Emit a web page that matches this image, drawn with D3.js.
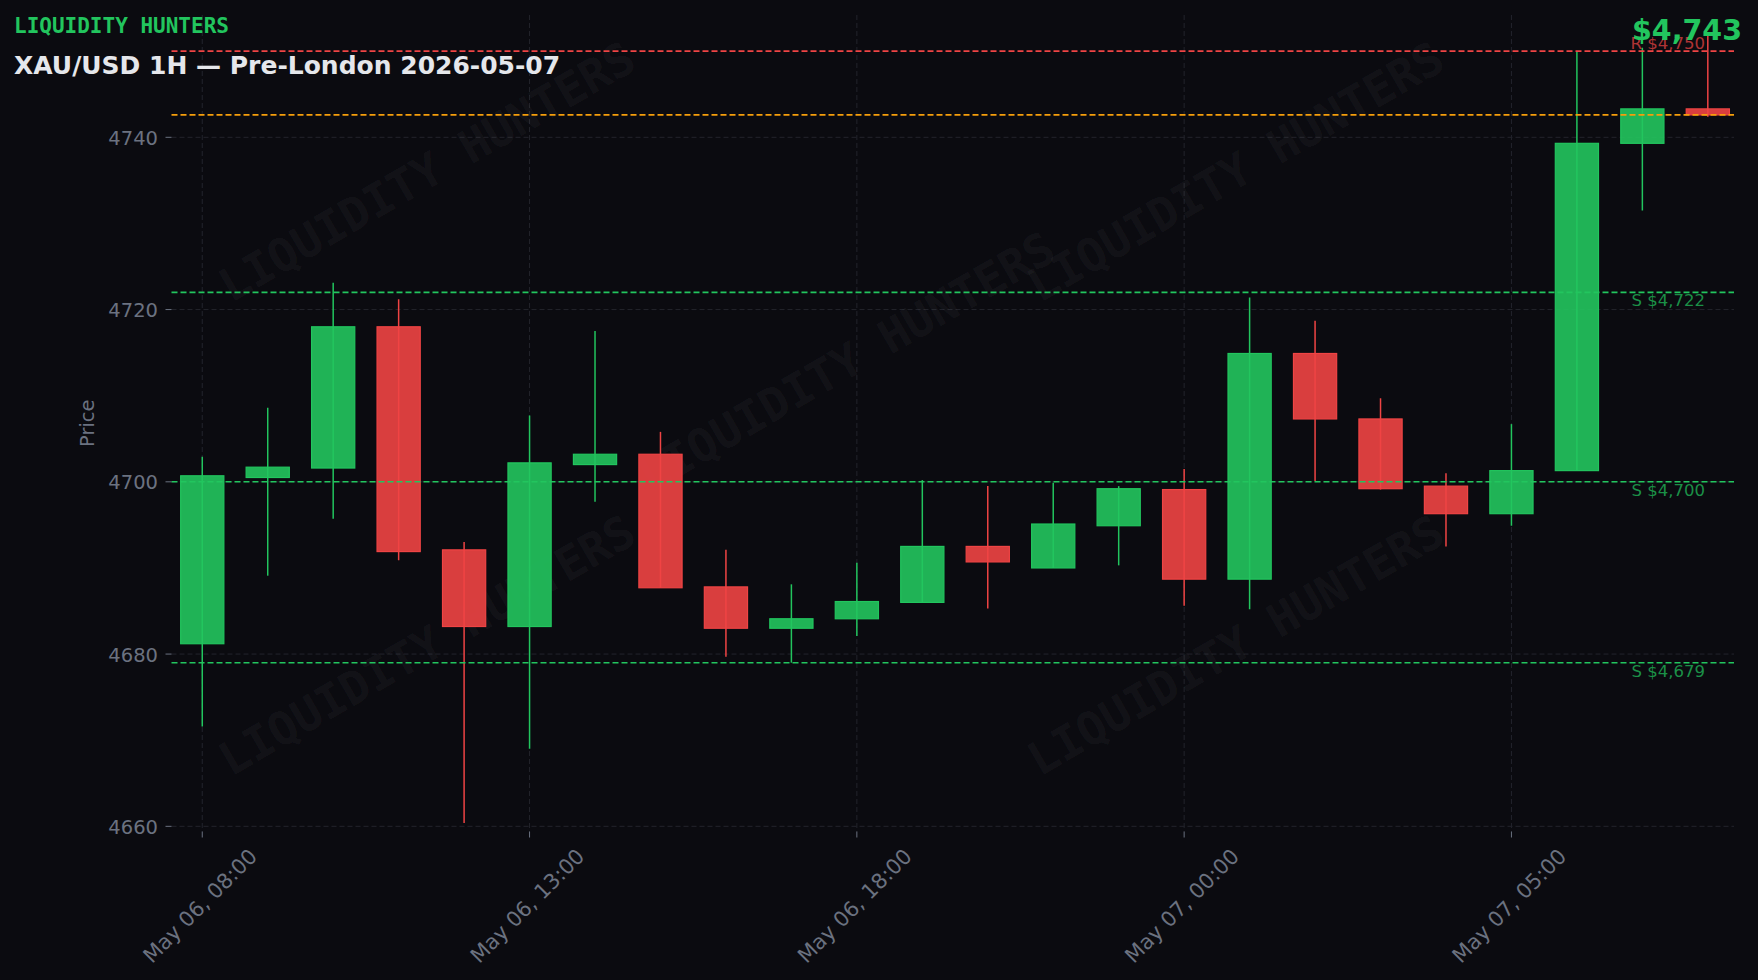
<!DOCTYPE html>
<html><head><meta charset="utf-8">
<script src="https://cdn.jsdelivr.net/npm/d3@7/dist/d3.min.js"></script>
<style>
html,body{margin:0;padding:0;background:#0b0b10;}
svg{display:block;}
</style></head><body>
<svg id="c" width="1758" height="980"></svg>
<script>
// ---- data ----
const times = [
  "May 06, 08:00","May 06, 09:00","May 06, 10:00","May 06, 11:00","May 06, 12:00",
  "May 06, 13:00","May 06, 14:00","May 06, 15:00","May 06, 16:00","May 06, 17:00",
  "May 06, 18:00","May 06, 19:00","May 06, 20:00","May 06, 22:00","May 06, 23:00",
  "May 07, 00:00","May 07, 01:00","May 07, 02:00","May 07, 03:00","May 07, 04:00",
  "May 07, 05:00","May 07, 06:00","May 07, 07:00","May 07, 08:00"
];
const opens  = [4681.2,4700.5,4701.6,4718.0,4692.1,4683.2,4702.0,4703.2,4687.8,4683.0,4684.1,4686.0,4692.5,4690.0,4694.9,4699.1,4688.7,4714.9,4707.3,4699.5,4696.3,4701.3,4739.3,4743.3];
const highs  = [4702.9,4708.6,4723.1,4721.2,4693.0,4707.7,4717.5,4705.8,4692.1,4688.1,4690.6,4700.2,4699.5,4699.9,4699.5,4701.5,4721.4,4718.7,4709.7,4701.0,4706.7,4750.0,4750.4,4752.2];
const lows   = [4671.6,4689.1,4695.7,4690.9,4660.4,4669.0,4697.7,4687.7,4679.7,4679.0,4682.1,4686.0,4685.3,4690.0,4690.3,4685.6,4685.2,4700.1,4699.1,4692.5,4694.9,4701.3,4731.5,4742.4];
const closes = [4700.7,4701.7,4718.0,4691.9,4683.2,4702.2,4703.2,4687.7,4683.0,4684.1,4686.1,4692.5,4690.7,4695.1,4699.2,4688.7,4714.9,4707.3,4699.2,4696.3,4701.3,4739.3,4743.3,4742.6];
const yTicks = [4660,4680,4700,4720,4740];
const xTickIdx = [0,5,10,15,20];
const levelPrices = [4750,4722,4700,4679];
const levelTypes  = ["R","S","S","S"];
const brand = "LIQUIDITY HUNTERS";
const title = "XAU/USD 1H \u2014 Pre-London 2026-05-07";

// ---- style / layout ----
const W = 1758, H = 980;
const M = {left:171.5, right:1734, top:15, bottom:831.5};
const BG = "#0b0b10", GREEN = "#22c55e", RED = "#ef4444", ORANGE = "#f59e0b",
      GRID = "#23242c", TICK = "#6b7280";
const FONT = "'DejaVu Sans', sans-serif", MONO = "'DejaVu Sans Mono', monospace";

const n = closes.length;
const svg = d3.select("#c");
svg.append("rect").attr("width", W).attr("height", H).attr("fill", BG);

const x = d3.scaleLinear().domain([-0.47, n - 1 + 0.40]).range([M.left, M.right]);
const y = d3.scaleLinear().domain([d3.min(lows) - 1, d3.max(highs) + 2]).range([M.bottom, M.top]);
const step = x(1) - x(0);

// grid
const grid = svg.append("g");
grid.selectAll("line.h").data(yTicks).join("line")
  .attr("x1", M.left).attr("x2", M.right)
  .attr("y1", d => y(d)).attr("y2", d => y(d))
  .attr("stroke", GRID).attr("stroke-width", 1).attr("stroke-dasharray", "5,3");
grid.selectAll("line.v").data(xTickIdx).join("line")
  .attr("x1", d => x(d)).attr("x2", d => x(d))
  .attr("y1", M.top).attr("y2", M.bottom)
  .attr("stroke", GRID).attr("stroke-width", 1).attr("stroke-dasharray", "5,3");

// watermark
const wmPos = [[0.1635,0.192],[0.432,0.425],[0.681,0.192],[0.1635,0.772],[0.681,0.772]];
svg.append("g").selectAll("text").data(wmPos).join("text")
  .attr("transform", d => `translate(${M.left + d[0]*(M.right-M.left)},${M.top + d[1]*(M.bottom-M.top)}) rotate(-30)`)
  .attr("text-anchor", "middle").attr("dominant-baseline", "central")
  .attr("font-family", MONO).attr("font-weight", "bold").attr("font-size", 46)
  .attr("fill", "#ffffff").attr("fill-opacity", 0.05)
  .text(brand);

// candles
const idx = d3.range(n);
const cg = svg.append("g");
const col = i => closes[i] >= opens[i] ? GREEN : RED;
cg.selectAll("line").data(idx).join("line")
  .attr("x1", i => x(i)).attr("x2", i => x(i))
  .attr("y1", i => y(highs[i])).attr("y2", i => y(lows[i]))
  .attr("stroke", col).attr("stroke-width", 1.5);
const bw = step * 0.66;
cg.selectAll("rect").data(idx).join("rect")
  .attr("x", i => x(i) - bw/2).attr("width", bw)
  .attr("y", i => y(Math.max(opens[i], closes[i])))
  .attr("height", i => Math.max(1, Math.abs(y(opens[i]) - y(closes[i]))))
  .attr("fill", col).attr("fill-opacity", 0.9)
  .attr("stroke", col).attr("stroke-width", 1.2);

// level lines
const fmt = d3.format("$,.0f");
const lv = svg.append("g");
levelPrices.forEach((p, k) => {
  const c = levelTypes[k] === "R" ? RED : GREEN;
  lv.append("line").attr("x1", M.left).attr("x2", M.right)
    .attr("y1", y(p)).attr("y2", y(p))
    .attr("stroke", c).attr("stroke-width", 1.6).attr("stroke-dasharray", "6,3");
  lv.append("text")
    .attr("x", 1705).attr("y", levelTypes[k] === "R" ? y(p) - 2.5 : y(p) + 14)
    .attr("text-anchor", "end").attr("font-family", FONT).attr("font-size", 16.5)
    .attr("fill", c).attr("fill-opacity", 0.72)
    .text(levelTypes[k] + " " + fmt(p));
});
const last = closes[n - 1];
lv.append("line").attr("x1", M.left).attr("x2", M.right)
  .attr("y1", y(last)).attr("y2", y(last))
  .attr("stroke", ORANGE).attr("stroke-width", 1.6).attr("stroke-dasharray", "6,3");

// y axis
const ya = svg.append("g");
ya.selectAll("line").data(yTicks).join("line")
  .attr("x1", M.left - 6).attr("x2", M.left)
  .attr("y1", d => y(d)).attr("y2", d => y(d))
  .attr("stroke", TICK).attr("stroke-width", 1);
ya.selectAll("text").data(yTicks).join("text")
  .attr("x", 158).attr("y", d => y(d) + 7.5)
  .attr("text-anchor", "end").attr("font-family", FONT).attr("font-size", 19.5)
  .attr("fill", TICK).text(d => d);
svg.append("text")
  .attr("transform", `translate(94,${(M.top + M.bottom)/2}) rotate(-90)`)
  .attr("text-anchor", "middle").attr("font-family", FONT).attr("font-size", 19.5)
  .attr("fill", TICK).text("Price");

// x axis
const xa = svg.append("g");
xa.selectAll("line").data(xTickIdx).join("line")
  .attr("x1", d => x(d)).attr("x2", d => x(d))
  .attr("y1", M.bottom).attr("y2", M.bottom + 6)
  .attr("stroke", TICK).attr("stroke-width", 1);
xa.selectAll("text").data(xTickIdx).join("text")
  .attr("transform", d => `translate(${x(d) - 2},906) rotate(-45)`)
  .attr("text-anchor", "middle").attr("dominant-baseline", "central")
  .attr("font-family", FONT).attr("font-size", 21)
  .attr("fill", TICK).text(d => times[d]);

// header texts
svg.append("text").attr("x", 14).attr("y", 33)
  .attr("font-family", MONO).attr("font-weight", "bold").attr("font-size", 21)
  .attr("fill", GREEN).text(brand);
svg.append("text").attr("x", 14).attr("y", 73.5)
  .attr("font-family", FONT).attr("font-weight", "bold").attr("font-size", 25)
  .attr("fill", "#e5e7eb").text(title);
svg.append("text").attr("x", 1742).attr("y", 39.5)
  .attr("text-anchor", "end")
  .attr("font-family", FONT).attr("font-weight", "bold").attr("font-size", 28.5)
  .attr("fill", GREEN).text(fmt(last));
</script>
</body></html>
